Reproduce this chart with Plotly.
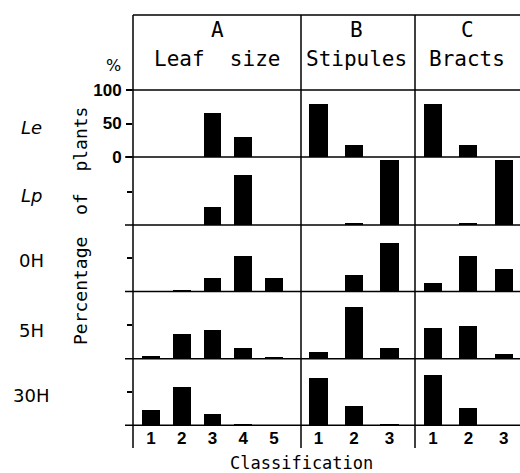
import plotly.graph_objects as go

# ---------------- data ----------------
rows = ["Le", "Lp", "0H", "5H", "30H"]
row_labels = ["<i>Le</i>", "<i>Lp</i>", "0H", "5H", "30H"]
col_letters = ["A", "B", "C"]
col_titles = ["Leaf  size", "Stipules", "Bracts"]
cats_leaf = [1, 2, 3, 4, 5]
cats_three = [1, 2, 3]

leaf_size = {
    "Le":  [0, 0, 66, 30, 0],
    "Lp":  [0, 0, 27, 74, 0],
    "0H":  [0, 3, 21, 54, 21],
    "5H":  [4, 38, 44, 16, 2],
    "30H": [23, 56, 16, 1, 0],
}
stipules = {
    "Le":  [79, 18, 0],
    "Lp":  [0, 3, 97],
    "0H":  [0, 25, 73],
    "5H":  [10, 78, 17],
    "30H": [70, 29, 0.5],
}
bracts = {
    "Le":  [79, 18, 0],
    "Lp":  [0, 2, 97],
    "0H":  [13, 54, 34],
    "5H":  [47, 50, 7],
    "30H": [75, 25, 0],
}
y_tick_vals = [0, 50, 100]
y_tick_text = ["0", "50", "100"]

# ---------------- layout geometry (pixels) ----------------
W, H = 520, 473
def px(x):
    return x / W
def py(y):
    return 1 - y / H

col_edges = [(133, 301), (301, 415), (415, 519)]
col_ranges = [(0.416, 5.88), (0.507, 3.72), (0.49, 3.43)]
bar_widths = [0.58, 0.51, 0.51]
baselines = [157, 225, 291.5, 358.7, 425.3]
row_h = 67

NUM_FONT = dict(family="Liberation Sans Narrow, Arial Narrow, Arial", size=17, color="black", weight="bold")
MONO = "DejaVu Sans Mono, monospace"

fig = go.Figure()
datasets = [leaf_size, stipules, bracts]
cat_sets = [cats_leaf, cats_three, cats_three]

layout = dict()
for r, name in enumerate(rows):
    for c in range(3):
        k = r * 3 + c + 1
        xa = "x" if k == 1 else f"x{k}"
        ya = "y" if k == 1 else f"y{k}"
        fig.add_trace(go.Bar(
            x=cat_sets[c], y=datasets[c][name], xaxis=xa, yaxis=ya,
            marker=dict(color="black", line=dict(width=0)),
            width=bar_widths[c], showlegend=False, hoverinfo="x+y",
        ))
        x0, x1 = col_edges[c]
        b = baselines[r]
        xk = "xaxis" if k == 1 else f"xaxis{k}"
        yk = "yaxis" if k == 1 else f"yaxis{k}"
        last = (r == len(rows) - 1)
        layout[xk] = dict(
            domain=[px(x0), px(x1)], range=list(col_ranges[c]), anchor=ya,
            showgrid=False, zeroline=False, showline=False, fixedrange=True, automargin=False,
            tickvals=cat_sets[c] if last else [], ticktext=[str(v) for v in cat_sets[c]] if last else [],
            showticklabels=last, ticks="", tickfont=NUM_FONT, ticklabelstandoff=1,
        )
        ydict = dict(
            domain=[py(b), py(b - row_h)], range=[0, 100], anchor=xa,
            showgrid=False, zeroline=False, showline=False, fixedrange=True, automargin=False,
        )
        if c == 0:
            if r == 0:
                ydict.update(tickvals=y_tick_vals, ticktext=y_tick_text, ticks="outside",
                             ticklen=6, tickwidth=1.5, tickcolor="black",
                             showticklabels=True, tickfont=NUM_FONT, ticklabelstandoff=1)
            else:
                ydict.update(tickvals=[50], ticks="outside", ticklen=5, tickwidth=1.5,
                             tickcolor="black", showticklabels=False)
        else:
            ydict.update(showticklabels=False, ticks="")
        layout[yk] = ydict

shapes = []
line = dict(color="black", width=1.5)
# outer frame and dividers
shapes.append(dict(type="line", xref="paper", yref="paper", x0=px(133), x1=px(520), y0=py(15), y1=py(15), line=line))
shapes.append(dict(type="line", xref="paper", yref="paper", x0=px(127), x1=px(520), y0=py(90), y1=py(90), line=line))
for xv in [133, 301, 415]:
    shapes.append(dict(type="line", xref="paper", yref="paper", x0=px(xv), x1=px(xv), y0=py(15), y1=py(448), line=line))
for b in baselines:
    shapes.append(dict(type="line", xref="paper", yref="paper", x0=px(125), x1=px(520), y0=py(b), y1=py(b), line=line))

ann = []
hdr_x = [217, 356, 467]
for c in range(3):
    ann.append(dict(x=px(hdr_x[c]), y=py(30), xref="paper", yref="paper", text=col_letters[c],
                    showarrow=False, font=dict(family=MONO, size=21, color="black"), xanchor="center", yanchor="middle"))
    ann.append(dict(x=px(hdr_x[c]), y=py(59), xref="paper", yref="paper", text=col_titles[c],
                    showarrow=False, font=dict(family=MONO, size=21, color="black"), xanchor="center", yanchor="middle"))
ann.append(dict(x=px(113), y=py(65), xref="paper", yref="paper", text="%", showarrow=False,
                font=dict(family="DejaVu Sans", size=16, color="black"), xanchor="center", yanchor="middle"))
row_y = [128, 195, 260, 330, 395]
for r in range(5):
    ann.append(dict(x=px(31), y=py(row_y[r]), xref="paper", yref="paper", text=row_labels[r], showarrow=False,
                    font=dict(family="DejaVu Sans", size=18, color="black"), xanchor="center", yanchor="middle"))
ann.append(dict(x=px(80), y=py(226), xref="paper", yref="paper", text="Percentage  of  plants", textangle=-90,
                showarrow=False, font=dict(family=MONO, size=18, color="black"), xanchor="center", yanchor="middle"))
ann.append(dict(x=px(301), y=py(463), xref="paper", yref="paper", text="Classification",
                showarrow=False, font=dict(family=MONO, size=17, color="black"), xanchor="center", yanchor="middle"))

fig.update_layout(
    width=W, height=H, autosize=False,
    margin=dict(l=0, r=0, t=0, b=0, pad=0),
    paper_bgcolor="white", plot_bgcolor="rgba(0,0,0,0)",
    bargap=0, shapes=shapes, annotations=ann, **layout,
)
fig.write_html("out.html", config={"displayModeBar": False})
